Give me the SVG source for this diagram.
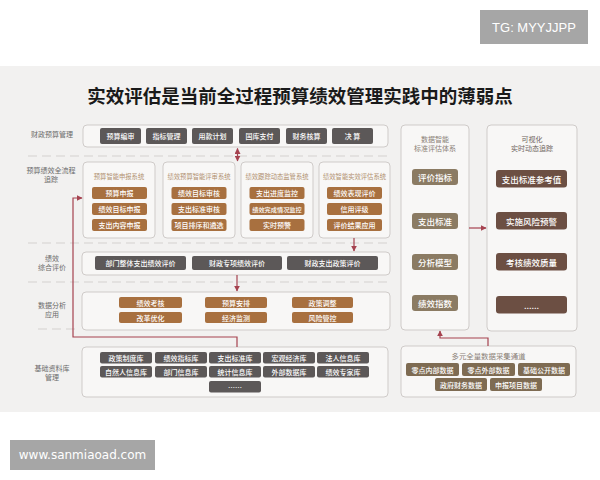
<svg xmlns="http://www.w3.org/2000/svg" width="600" height="480" viewBox="0 0 600 480">
<defs>
<style>
text{font-family:"Noto Sans CJK SC","Noto Sans",sans-serif;text-anchor:middle;dominant-baseline:central}
.panel{fill:#f8f7f6;stroke:#cfcbc9;stroke-width:1}
.dk{fill:#5c5858}
.br{fill:#a8703f}
.tp{fill:#8b7b63}
.db{fill:#6c4f43}
.bt{fill:#7e6b52}
.t{fill:#ffffff;font-size:7px;font-weight:500}
.t2{fill:#ffffff;font-size:8.5px;font-weight:500}
.lbl{fill:#6a6a6a;font-size:7px}
.sys{fill:#b0906f;font-size:6.3px}
.ct{fill:#8a7f76;font-size:7px}
.dash{stroke:#d4d1cf;stroke-width:1;stroke-dasharray:9 5;fill:none}
.con{stroke:#a5424f;stroke-width:1.2;fill:none}
</style>
<marker id="ah" viewBox="0 0 10 10" refX="9" refY="5" markerWidth="5" markerHeight="5" orient="auto-start-reverse">
<path d="M0,0 L10,5 L0,10 z" fill="#a5424f"/>
</marker>
</defs>

<rect x="0" y="0" width="600" height="480" fill="#ffffff"/>
<rect x="0" y="66" width="600" height="346" fill="#f2f1f0"/>

<g id="watermark-tg">
<rect x="480" y="10" width="108" height="34" fill="#a6a6a6"/>
<text x="534" y="27.5" style="fill:#ffffff;font-size:13px;font-family:'Liberation Sans',sans-serif">TG: MYYJJPP</text>
</g>
<g id="watermark-url">
<rect x="10" y="440" width="145" height="30" fill="#a6a6a6"/>
<text x="82.5" y="455" style="fill:#ffffff;font-size:12px;font-family:'DejaVu Sans',sans-serif">www.sanmiaoad.com</text>
</g>

<text id="title" x="300" y="95" style="font-size:18.5px;font-weight:700;fill:#1a1a1a">实效评估是当前全过程预算绩效管理实践中的薄弱点</text>

<g id="separators">
<line class="dash" x1="28" y1="156" x2="392" y2="156"/>
<line class="dash" x1="28" y1="243" x2="392" y2="243"/>
<line class="dash" x1="28" y1="282" x2="392" y2="282"/>
<line class="dash" x1="38" y1="329" x2="76" y2="329"/>
</g>

<g id="row-labels">
<text class="lbl" x="52" y="134">财政预算管理</text>
<text class="lbl" x="51" y="170">预算绩效全流程</text>
<text class="lbl" x="51" y="179">追踪</text>
<text class="lbl" x="52" y="258">绩效</text>
<text class="lbl" x="52" y="267">综合评价</text>
<text class="lbl" x="52" y="305">数据分析</text>
<text class="lbl" x="52" y="314">应用</text>
<text class="lbl" x="52" y="368">基础资料库</text>
<text class="lbl" x="52" y="377">管理</text>
</g>

<g id="budget-management">
<rect class="panel" x="83" y="125" width="305" height="22" rx="4"/>
<rect class="dk" x="100" y="128" width="41" height="16" rx="2"/><text class="t" x="120.5" y="136">预算编审</text>
<rect class="dk" x="146" y="128" width="41" height="16" rx="2"/><text class="t" x="166.5" y="136">指标管理</text>
<rect class="dk" x="192" y="128" width="41" height="16" rx="2"/><text class="t" x="212.5" y="136">用款计划</text>
<rect class="dk" x="239" y="128" width="41" height="16" rx="2"/><text class="t" x="259.5" y="136">国库支付</text>
<rect class="dk" x="286" y="128" width="41" height="16" rx="2"/><text class="t" x="306.5" y="136">财务核算</text>
<rect class="dk" x="332" y="128" width="41" height="16" rx="2"/><text class="t" x="352.5" y="136">决  算</text>
</g>

<g id="system-declare">
<rect class="panel" x="83" y="162" width="72" height="76" rx="4"/>
<text class="sys" x="119" y="176">预算智能申报系统</text>
<rect class="br" x="92" y="187" width="55" height="12" rx="2"/><text class="t" x="119.5" y="193">预算申报</text>
<rect class="br" x="92" y="203" width="55" height="12" rx="2"/><text class="t" x="119.5" y="209">绩效目标申报</text>
<rect class="br" x="92" y="219" width="55" height="12" rx="2"/><text class="t" x="119.5" y="225">支出内容申报</text>
</g>
<g id="system-review">
<rect class="panel" x="163" y="162" width="72" height="76" rx="4"/>
<text class="sys" x="199" y="176">绩效预算智能评审系统</text>
<rect class="br" x="171.5" y="187" width="55" height="12" rx="2"/><text class="t" x="199" y="193">绩效目标审核</text>
<rect class="br" x="171.5" y="203" width="55" height="12" rx="2"/><text class="t" x="199" y="209">支出标准审核</text>
<rect class="br" x="171.5" y="219" width="55" height="12" rx="2"/><text class="t" x="199" y="225">项目排序和遴选</text>
</g>
<g id="system-monitor">
<rect class="panel" x="241" y="162" width="72" height="76" rx="4"/>
<text class="sys" x="277" y="176">绩效跟踪动态监管系统</text>
<rect class="br" x="249.5" y="187" width="55" height="12" rx="2"/><text class="t" x="277" y="193">支出进度监控</text>
<rect class="br" x="249.5" y="203" width="55" height="12" rx="2"/><text class="t" x="277" y="209" style="font-size:6.2px">绩效完成情况监控</text>
<rect class="br" x="249.5" y="219" width="55" height="12" rx="2"/><text class="t" x="277" y="225">实时预警</text>
</g>
<g id="system-evaluate">
<rect class="panel" x="319" y="162" width="71" height="76" rx="4"/>
<text class="sys" x="354.5" y="176">绩效智能实效评估系统</text>
<rect class="br" x="327" y="187" width="55" height="12" rx="2"/><text class="t" x="354.5" y="193">绩效表现评价</text>
<rect class="br" x="327" y="203" width="55" height="12" rx="2"/><text class="t" x="354.5" y="209">信用评级</text>
<rect class="br" x="327" y="219" width="55" height="12" rx="2"/><text class="t" x="354.5" y="225">评价结果应用</text>
</g>

<g id="comprehensive-evaluation">
<rect class="panel" x="82" y="252" width="308" height="23" rx="4"/>
<rect class="dk" x="95" y="256" width="91" height="14" rx="2"/><text class="t" x="140.5" y="263">部门整体支出绩效评价</text>
<rect class="dk" x="192" y="256" width="90" height="14" rx="2"/><text class="t" x="237" y="263">财政专项绩效评价</text>
<rect class="dk" x="287" y="256" width="91" height="14" rx="2"/><text class="t" x="332.5" y="263">财政支出政策评价</text>
</g>

<g id="data-analysis">
<rect class="panel" x="82" y="292" width="308" height="38" rx="4"/>
<rect class="br" x="119" y="297" width="63" height="11" rx="2"/><text class="t" x="150.5" y="302.5">绩效考核</text>
<rect class="br" x="119" y="312" width="63" height="11" rx="2"/><text class="t" x="150.5" y="317.5">改革优化</text>
<rect class="br" x="205" y="297" width="62" height="11" rx="2"/><text class="t" x="236" y="302.5">预算安排</text>
<rect class="br" x="205" y="312" width="62" height="11" rx="2"/><text class="t" x="236" y="317.5">经济监测</text>
<rect class="br" x="292" y="297" width="61" height="11" rx="2"/><text class="t" x="322.5" y="302.5">政策调整</text>
<rect class="br" x="292" y="312" width="61" height="11" rx="2"/><text class="t" x="322.5" y="317.5">风险管控</text>
</g>

<g id="base-library">
<rect class="panel" x="82" y="347" width="306" height="50" rx="4"/>
<rect class="dk" x="100" y="352" width="52" height="11.5" rx="2"/><text class="t" x="126" y="357.8">政策制度库</text>
<rect class="dk" x="155" y="352" width="52" height="11.5" rx="2"/><text class="t" x="181" y="357.8">绩效指标库</text>
<rect class="dk" x="209" y="352" width="52" height="11.5" rx="2"/><text class="t" x="235" y="357.8">支出标准库</text>
<rect class="dk" x="263" y="352" width="52" height="11.5" rx="2"/><text class="t" x="289" y="357.8">宏观经济库</text>
<rect class="dk" x="317" y="352" width="52" height="11.5" rx="2"/><text class="t" x="343" y="357.8">法人信息库</text>
<rect class="dk" x="100" y="366" width="52" height="11.5" rx="2"/><text class="t" x="126" y="371.8">自然人信息库</text>
<rect class="dk" x="155" y="366" width="52" height="11.5" rx="2"/><text class="t" x="181" y="371.8">部门信息库</text>
<rect class="dk" x="209" y="366" width="52" height="11.5" rx="2"/><text class="t" x="235" y="371.8">统计信息库</text>
<rect class="dk" x="263" y="366" width="52" height="11.5" rx="2"/><text class="t" x="289" y="371.8">外部数据库</text>
<rect class="dk" x="317" y="366" width="52" height="11.5" rx="2"/><text class="t" x="343" y="371.8">绩效专家库</text>
<rect class="dk" x="209" y="381" width="52" height="11.5" rx="2"/><text class="t" x="235" y="386.5">……</text>
</g>

<g id="standard-system">
<rect class="panel" x="401" y="125" width="68" height="205" rx="4"/>
<text class="ct" x="435" y="139">数据智能</text>
<text class="ct" x="435" y="148">标准评估体系</text>
<rect class="tp" x="412" y="169" width="46" height="16" rx="3"/><text class="t2" x="435" y="177">评价指标</text>
<rect class="tp" x="412" y="213" width="46" height="16" rx="3"/><text class="t2" x="435" y="221">支出标准</text>
<rect class="tp" x="412" y="254" width="46" height="16" rx="3"/><text class="t2" x="435" y="262">分析模型</text>
<rect class="tp" x="412" y="295" width="46" height="16" rx="3"/><text class="t2" x="435" y="303">绩效指数</text>
</g>

<g id="visual-tracking">
<rect class="panel" x="487" y="125" width="90" height="206" rx="4"/>
<text class="ct" x="532" y="139" style="fill:#6e6460">可视化</text>
<text class="ct" x="532" y="148" style="fill:#6e6460">实时动态追踪</text>
<rect class="db" x="496" y="170" width="71" height="17.5" rx="3"/><text class="t2" x="531.5" y="178.8">支出标准参考值</text>
<rect class="db" x="496" y="212" width="71" height="17.5" rx="3"/><text class="t2" x="531.5" y="220.8">实施风险预警</text>
<rect class="db" x="496" y="253" width="71" height="17.5" rx="3"/><text class="t2" x="531.5" y="261.8">考核绩效质量</text>
<rect class="db" x="496" y="296" width="71" height="17.5" rx="3"/><text class="t2" x="531.5" y="304.8">......</text>
</g>

<g id="data-channels">
<rect class="panel" x="401" y="346" width="175" height="51" rx="4"/>
<text class="ct" x="488.5" y="355" style="font-size:7.4px">多元全量数据采集通道</text>
<rect class="bt" x="406" y="363" width="53" height="13" rx="2"/><text class="t" x="432.5" y="369.5">零点内部数据</text>
<rect class="bt" x="462" y="363" width="53" height="13" rx="2"/><text class="t" x="488.5" y="369.5">零点外部数据</text>
<rect class="bt" x="518" y="363" width="52" height="13" rx="2"/><text class="t" x="544" y="369.5">基础公开数据</text>
<rect class="bt" x="435" y="378" width="52" height="13" rx="2"/><text class="t" x="461" y="384.5">政府财务数据</text>
<rect class="bt" x="490" y="378" width="52" height="13" rx="2"/><text class="t" x="516" y="384.5">申报项目数据</text>
</g>

<g id="connectors">
<line class="con" x1="237.5" y1="148.5" x2="237.5" y2="161" marker-start="url(#ah)" marker-end="url(#ah)"/>
<line class="con" x1="354" y1="238" x2="354" y2="251" marker-end="url(#ah)"/>
<line class="con" x1="237" y1="275" x2="237" y2="291" marker-end="url(#ah)"/>
<path class="con" d="M237,347 V337 H73 V198 H82" marker-end="url(#ah)"/>
<line class="con" x1="469" y1="228" x2="486" y2="228" marker-end="url(#ah)"/>
<path class="con" d="M488,346 V338 H440 V331" marker-end="url(#ah)"/>
</g>
</svg>
